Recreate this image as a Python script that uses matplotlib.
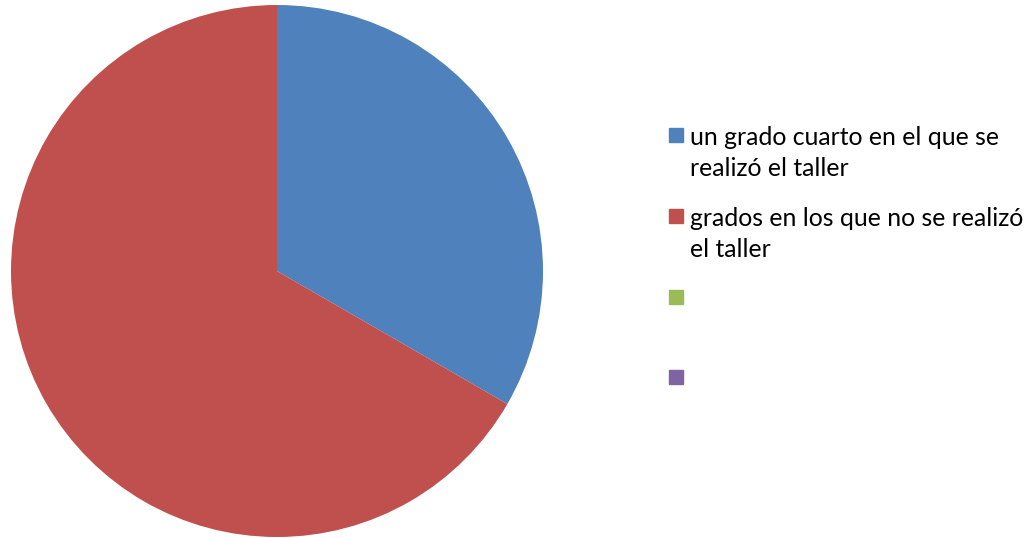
import matplotlib.pyplot as plt
from matplotlib.patches import Rectangle

# --- DATA ---
categorias = ["un grado cuarto en el que se\nrealizó el taller",
              "grados en los que no se realizó\nel taller",
              "", ""]
valores = [1, 2]
cores = ["#4F81BD", "#C0504D", "#9BBB59", "#8064A2"]

W, H = 1029, 538
fig = plt.figure(figsize=(W / 100, H / 100), dpi=100)

# pie: center (277, 271) px, radius ~266 px
cx, cy, r = 277, 271, 266
ax = fig.add_axes([(cx - r) / W, (H - cy - r) / H, 2 * r / W, 2 * r / H])
ax.pie(valores, colors=cores[:len(valores)], startangle=90, counterclock=False,
       wedgeprops=dict(linewidth=0))
ax.set_xlim(-1, 1)
ax.set_ylim(-1, 1)
ax.set_aspect("equal")
ax.axis("off")

# --- legend, drawn by hand ---
ys = [135, 216, 297, 377]
for cat, cor, y in zip(categorias, cores, ys):
    fig.add_artist(Rectangle(((669) / W, (H - y - 7) / H), 14 / W, 14 / H,
                             transform=fig.transFigure, color=cor))
    if cat:
        # baseline of the last line sits ~41 px below the marker centre
        fig.text(690 / W, (H - y - 41) / H, cat, fontsize=17.8, family="Lato",
                 va="baseline", ha="left", linespacing=1.42, color="black")

fig.savefig("out.png", dpi=100)
